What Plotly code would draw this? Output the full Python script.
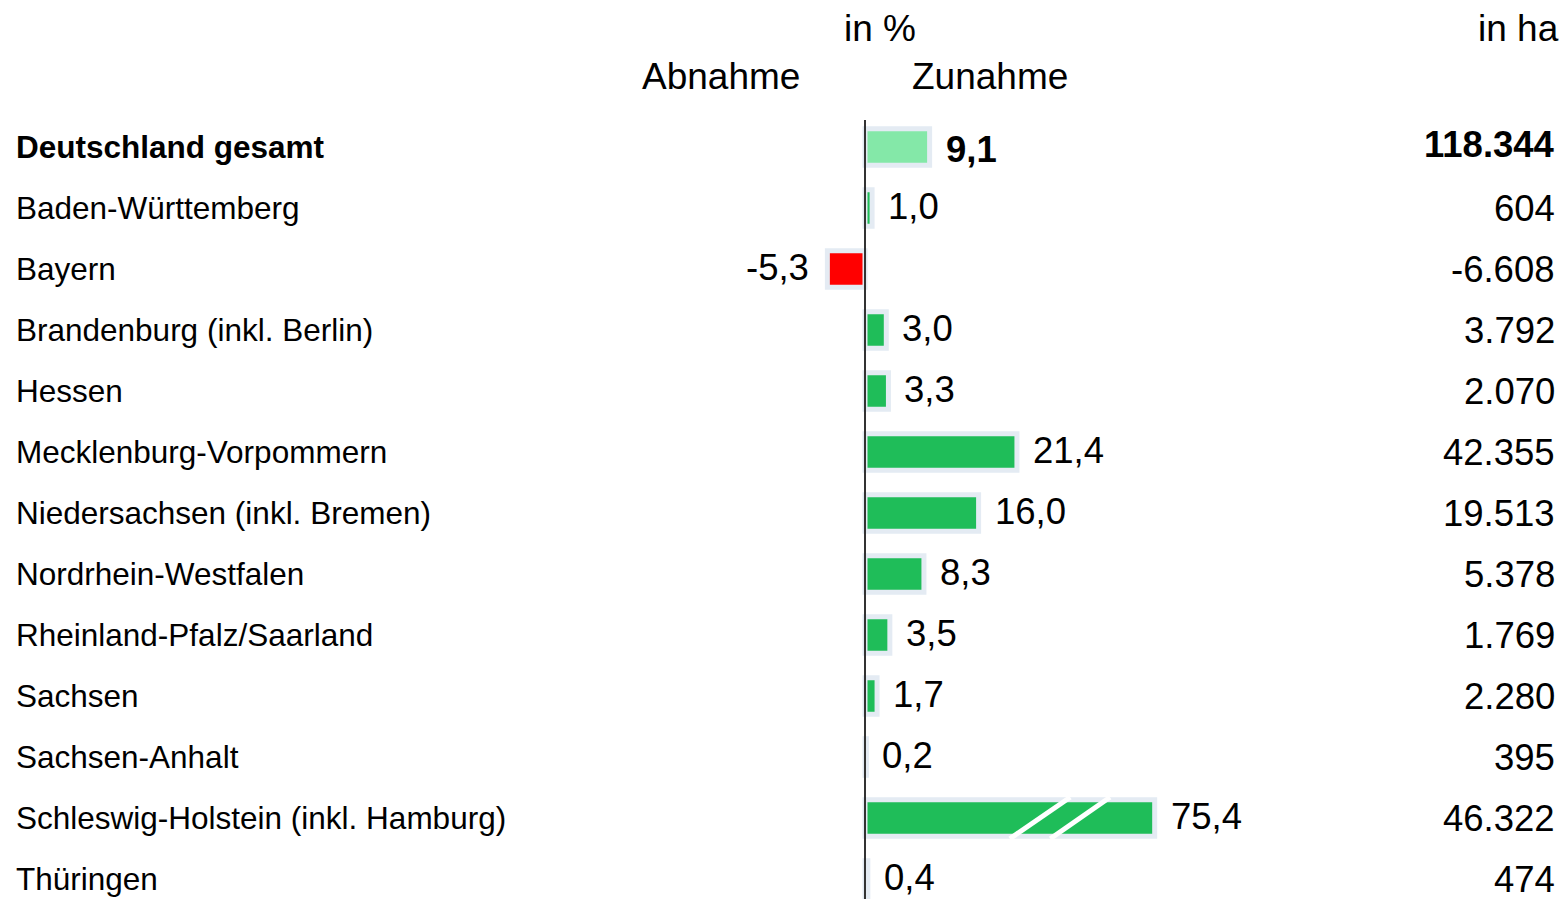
import plotly.graph_objects as go

# data
regions = ["Deutschland gesamt", "Baden-Württemberg", "Bayern", "Brandenburg (inkl. Berlin)",
           "Hessen", "Mecklenburg-Vorpommern", "Niedersachsen (inkl. Bremen)", "Nordrhein-Westfalen",
           "Rheinland-Pfalz/Saarland", "Sachsen", "Sachsen-Anhalt",
           "Schleswig-Holstein (inkl. Hamburg)", "Thüringen"]
change_pct = [9.1, 1.0, -5.3, 3.0, 3.3, 21.4, 16.0, 8.3, 3.5, 1.7, 0.2, 75.4, 0.4]
change_ha = ["118.344", "604", "-6.608", "3.792", "2.070", "42.355", "19.513", "5.378",
             "1.769", "2.280", "395", "46.322", "474"]

BREAK_AT = 40.8          # bars longer than this are drawn broken

W, H = 1566, 899
PX_PER_PCT = 7.1
ZERO_PX = 865
ROW0, ROW_H = 147, 61

GREEN = "#1fbd59"
LIGHT_GREEN = "#84e8a8"
RED = "#ff0000"
HALO = "#e4ebf3"
FONT = "Liberation Sans, Arial, sans-serif"

def px(x):
    return x / W

def py(y):
    return 1 - y / H

shown = [min(v, BREAK_AT) for v in change_pct]
colors = [LIGHT_GREEN if i == 0 else (RED if v < 0 else GREEN) for i, v in enumerate(change_pct)]

def fmt(v):
    return f"{v:.1f}".replace(".", ",")

fig = go.Figure()
fig.add_trace(go.Bar(y=regions, x=shown, orientation="h", width=0.6,
                     marker=dict(color=colors, line=dict(color=HALO, width=5)),
                     hoverinfo="skip"))

anns = []
for i, (reg, v, s, ha) in enumerate(zip(regions, change_pct, shown, change_ha)):
    bold = i == 0
    lab = f"<b>{reg}</b>" if bold else reg
    anns.append(dict(text=lab, xref="paper", x=px(14), y=reg, yref="y", xanchor="left",
                     showarrow=False, font=dict(size=31.5, family=FONT, color="black")))
    num = f"<b>{fmt(v)}</b>" if bold else fmt(v)
    anns.append(dict(text=num, x=s, y=reg, xref="x", yref="y", showarrow=False,
                     xanchor="left" if v >= 0 else "right", xshift=14 if v >= 0 else -16,
                     yshift=-2 if bold else 2, font=dict(size=36.5, family=FONT, color="black")))
    hv = f"<b>{ha}</b>" if bold else ha
    anns.append(dict(text=hv, xref="paper", x=px(1557), y=reg, yref="y", xanchor="right",
                     showarrow=False, yshift=3 if bold else 0,
                     font=dict(size=36.5, family=FONT, color="black")))

for txt, x, y, anchor in [("in %", 880, 28, "center"), ("Abnahme", 721, 76, "center"),
                          ("Zunahme", 990, 76, "center"), ("in ha", 1561, 28, "right")]:
    anns.append(dict(text=txt, xref="paper", yref="paper", x=px(x), y=py(y),
                     xanchor=anchor, yanchor="middle", showarrow=False,
                     font=dict(size=37, family=FONT, color="black")))

shapes = []
# break marks on the long bar
brk = regions.index("Schleswig-Holstein (inkl. Hamburg)")
for x0, x1 in [(20.4, 28.9), (26.1, 34.5)]:
    shapes.append(dict(type="line", xref="x", yref="y", x0=x0, x1=x1,
                       y0=brk + 0.34, y1=brk - 0.34, line=dict(color="white", width=5)))
# zero line
shapes.append(dict(type="line", xref="x", yref="paper", x0=0, x1=0, y0=0, y1=py(120),
                   line=dict(color="#333333", width=2)))

fig.update_xaxes(range=[-ZERO_PX / PX_PER_PCT, (W - ZERO_PX) / PX_PER_PCT],
                 visible=False, showgrid=False, zeroline=False)
fig.update_yaxes(type="category", range=[(H - ROW0) / ROW_H, -ROW0 / ROW_H],
                 visible=False, showgrid=False, zeroline=False)
fig.update_layout(width=W, height=H, margin=dict(l=0, r=0, t=0, b=0),
                  plot_bgcolor="white", paper_bgcolor="white", showlegend=False,
                  annotations=anns, shapes=shapes, font=dict(family=FONT))
# drop the default body margin so the figure fills the window
fig.write_html("out.html", config={"displayModeBar": False},
               post_script="document.body.style.margin='0';document.body.style.overflow='hidden';")
